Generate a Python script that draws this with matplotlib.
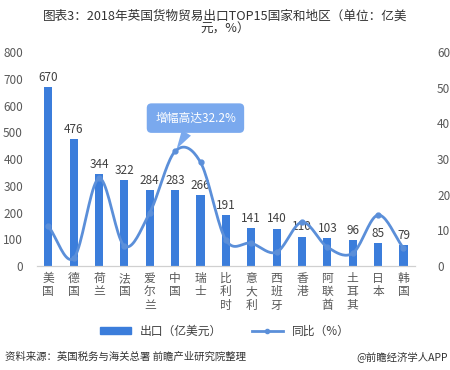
import numpy as np
import matplotlib
matplotlib.use("Agg")
import matplotlib.pyplot as plt
from matplotlib.lines import Line2D
from matplotlib.patches import Patch

plt.rcParams['font.family'] = ['Noto Sans CJK SC', 'DejaVu Sans']

countries = ["美国", "德国", "荷兰", "法国", "爱尔兰", "中国", "瑞士", "比利时",
             "意大利", "西班牙", "香港", "阿联酋", "土耳其", "日本", "韩国"]
exports = [670, 476, 344, 322, 284, 283, 266, 191, 141, 140, 110, 103, 96, 85, 79]
growth = [11.2, 2.2, 24.6, 5.6, 15.0, 32.2, 29.1, 7.3, 6.4, 3.9, 12.3, 5.3, 3.6, 14.3, 5.0]

bar_color = "#3b7ddb"
line_color = "#5b8fd9"
text_color = "#404040"
tick_color = "#595959"


def smooth(x, y, n=20):
    # catmull-rom style curve through the points, like a spreadsheet "smoothed line"
    x = np.asarray(x, dtype=float)
    y = np.asarray(y, dtype=float)
    px = np.concatenate([[2 * x[0] - x[1]], x, [2 * x[-1] - x[-2]]])
    py = np.concatenate([[2 * y[0] - y[1]], y, [2 * y[-1] - y[-2]]])
    xs, ys = [], []
    t = np.linspace(0, 1, n, endpoint=False)
    for i in range(1, len(px) - 2):
        for arr, out in ((px, xs), (py, ys)):
            p0, p1, p2, p3 = arr[i - 1], arr[i], arr[i + 1], arr[i + 2]
            out.extend(0.5 * ((2 * p1) + (-p0 + p2) * t
                              + (2 * p0 - 5 * p1 + 4 * p2 - p3) * t**2
                              + (-p0 + 3 * p1 - 3 * p2 + p3) * t**3))
    xs.append(x[-1])
    ys.append(y[-1])
    return np.array(xs), np.array(ys)


fig = plt.figure(figsize=(4.5, 3.7), dpi=100)
ax = fig.add_axes([0.082, 0.281, 0.84, 0.578])
ax2 = ax.twinx()

x = np.arange(len(countries))
ax.bar(x, exports, width=0.32, color=bar_color, zorder=2)
for xi, v in zip(x, exports):
    ax.text(xi, v + 12, str(v), ha="center", va="bottom", fontsize=8.5,
            color=text_color, zorder=5)

sx, sy = smooth(x, growth)
ax2.plot(sx, sy, color=line_color, lw=2, zorder=3)
ax2.plot(x, growth, "o", color=line_color, ms=3.5, zorder=4)

ax.set_xlim(-0.45, len(countries) - 0.55)
ax.set_ylim(0, 800)
ax2.set_ylim(0, 60)
ax.set_yticks(range(0, 801, 100))
ax2.set_yticks(range(0, 61, 10))
ax.set_xticks(x)
ax.set_xticklabels(["\n".join(c) for c in countries], fontsize=8,
                   color=tick_color, linespacing=1.05)

for a in (ax, ax2):
    for s in ("top", "left", "right"):
        a.spines[s].set_visible(False)
    a.spines["bottom"].set_color("#d0d0d0")
    a.tick_params(length=0, labelsize=8.5, colors=tick_color)
ax.tick_params(axis="y", pad=10)
ax2.tick_params(axis="y", pad=16)
ax.tick_params(axis="x", pad=4)

# callout for the peak
ax2.annotate("增幅高达32.2%", xy=(5, growth[5]), xytext=(5.8, 41.5),
             ha="center", va="center", fontsize=8.5, color="white", zorder=6,
             bbox=dict(boxstyle="round,pad=0.7,rounding_size=0.4", fc="#7aa9ee", ec="none"),
             arrowprops=dict(arrowstyle="wedge,tail_width=0.9,shrink_factor=0.5",
                             fc="#7aa9ee", ec="none", shrinkA=0, shrinkB=2))

handles = [Patch(color=bar_color),
           Line2D([0], [0], color=line_color, lw=2, marker="o", ms=3)]
fig.legend(handles, ["出口（亿美元）", "同比（%）"], loc="center",
           bbox_to_anchor=(0.5, 0.105), ncol=2, frameon=False, fontsize=8.5,
           handlelength=2.6, handleheight=0.6, columnspacing=2.5,
           labelcolor=text_color)

fig.text(0.5, 0.975, "图表3：2018年英国货物贸易出口TOP15国家和地区（单位：亿美\n元，%）",
         ha="center", va="top", fontsize=9.1, color="#333333", linespacing=1.0)
fig.text(0.012, 0.035, "资料来源：英国税务与海关总署 前瞻产业研究院整理", ha="left",
         va="center", fontsize=7.5, style="italic", color="#333333")
fig.text(0.995, 0.035, "@前瞻经济学人APP", ha="right", va="center", fontsize=7.5,
         color="#333333")

fig.savefig("out.png", dpi=100, facecolor="white")
